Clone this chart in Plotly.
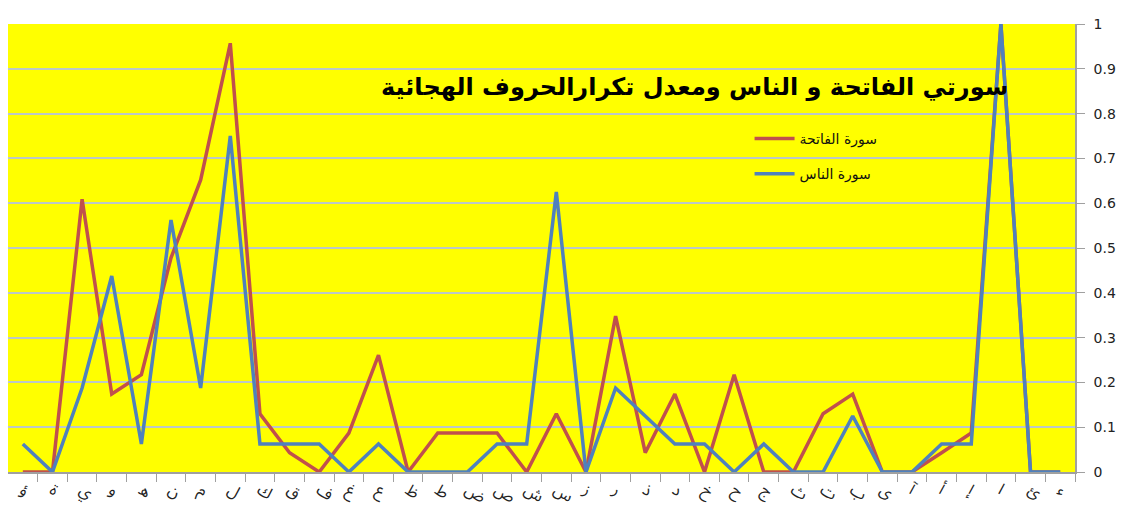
import plotly.graph_objects as go

letters = ["ء", "ئ", "ا", "إ", "أ", "آ", "ى", "ب", "ت", "ث", "ج", "ح", "خ", "د", "ذ", "ر", "ز", "س",
           "ش", "ص", "ض", "ط", "ظ", "ع", "غ", "ف", "ق", "ك", "ل", "م", "ن", "ه", "و", "ي", "ة", "ؤ"]

fatiha = [0, 0, 1.0, 0.087, 0.043, 0, 0, 0.174, 0.130, 0, 0, 0.217, 0, 0.174, 0.043, 0.348, 0, 0.130,
          0, 0.087, 0.087, 0.087, 0, 0.261, 0.087, 0, 0.043, 0.130, 0.957, 0.652, 0.478, 0.217, 0.174, 0.609, 0, 0]

nas = [0, 0, 1.0, 0.0625, 0.0625, 0, 0, 0.125, 0, 0, 0.0625, 0, 0.0625, 0.0625, 0.125, 0.1875, 0, 0.625,
       0.0625, 0.0625, 0, 0, 0, 0.0625, 0, 0.0625, 0.0625, 0.0625, 0.75, 0.1875, 0.5625, 0.0625, 0.4375, 0.1875, 0, 0.0625]

series_names = ["سورة الفاتحة", "سورة الناس"]
title_text = "سورتي الفاتحة و الناس ومعدل تكرارالحروف الهجائية"

n = len(letters)

fig = go.Figure()
fig.add_trace(go.Scatter(x=letters, y=fatiha, mode="lines", name=series_names[0], legendgroup="a",
                         line=dict(color="#C0504D", width=3.5)))
fig.add_trace(go.Scatter(x=letters, y=nas, mode="lines", name=series_names[1], legendgroup="b",
                         line=dict(color="#4F81BD", width=3.5)))

fig.update_layout(
    width=1118, height=506,
    margin=dict(l=0, r=51, t=16, b=42),
    paper_bgcolor="white",
    plot_bgcolor="#FFFF00",
    font=dict(family="DejaVu Sans", color="#222222"),
    showlegend=True,
    legend=dict(x=0.695, y=0.779, xanchor="left", yanchor="top", bgcolor="rgba(0,0,0,0)",
                font=dict(size=14, family="DejaVu Sans", color="#111111"),
                tracegroupgap=14, itemwidth=40),
    xaxis=dict(type="category", range=[n - 0.5, -0.5], tickson="boundaries", automargin=False,
               ticks="outside", ticklen=8, tickcolor="#A0A0A0", ticklabelstandoff=1,
               showline=True, linecolor="#A0A0A0", linewidth=1.5,
               showgrid=False,
               tickfont=dict(size=16, family="Noto Sans Arabic, DejaVu Sans", color="#222222")),
    yaxis=dict(side="right", range=[0, 1], dtick=0.1, tickformat="~g", automargin=False,
               ticks="outside", ticklen=8, tickcolor="#A0A0A0", ticklabelstandoff=6,
               showline=True, linecolor="#A0A0A0", linewidth=1.5,
               showgrid=True, gridcolor="#BCC8C8", gridwidth=2, zeroline=False,
               tickfont=dict(size=14, family="DejaVu Sans", color="#222222")),
    annotations=[dict(text="<b>" + title_text + "</b>", xref="paper", yref="paper",
                      x=0.939, y=0.859, xanchor="right", yanchor="middle", showarrow=False,
                      font=dict(size=24, family="DejaVu Sans", color="black"))],
    shapes=[dict(type="rect", xref="paper", yref="paper", x0=-0.05, x1=1.044, y0=-0.3, y1=1.045,
                 line=dict(color="#AAAAAA", width=1.5), fillcolor="rgba(0,0,0,0)", layer="above")],
)

fig.write_html("out.html")
